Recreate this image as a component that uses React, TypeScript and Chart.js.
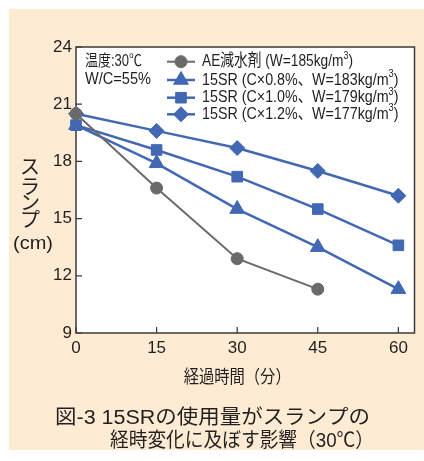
import React, { useEffect, useRef } from 'react';
import { Chart, registerables } from 'chart.js';
import { drawPoint } from 'chart.js/helpers';

Chart.register(...registerables);

const minutes = [0, 15, 30, 45, 60];
const aeSlump = [20.5, 16.6, 12.9, 11.3];
const sr08Slump = [19.9, 17.9, 15.5, 13.5, 11.3];
const sr10Slump = [19.9, 18.6, 17.2, 15.5, 13.6];
const sr12Slump = [20.5, 19.6, 18.7, 17.5, 16.2];
const xTickValues = [0, 15, 30, 45, 60];
const yTickValues = [9, 12, 15, 18, 21, 24];
const legendLabels = [
  'AE減水剤 (W=185kg/m',
  '15SR (C×0.8%、W=183kg/m',
  '15SR (C×1.0%、W=179kg/m',
  '15SR (C×1.2%、W=177kg/m',
];
const noteLines = ['温度:30℃', 'W/C=55%'];
const yTitleChars = ['ス', 'ラ', 'ン', 'プ'];
const yTitleUnit = '(cm)';
const xTitle = '経過時間（分）';
const captionLines = ['図-3 15SRの使用量がスランプの', '経時変化に及ぼす影響（30℃）'];

const FAMILY = '"Liberation Sans", "Noto Sans CJK JP", sans-serif';
const BLUE = '#4268b3';
const GRAY = '#6a6a6a';
const TEXT = '#231f20';

type Piece = { t: string; sup?: boolean };

function drawPieces(
  ctx: CanvasRenderingContext2D,
  pieces: Piece[],
  x: number,
  y: number,
  size: number,
  target: number,
  align: 'left' | 'center' = 'left'
) {
  const normal = `${size}px ${FAMILY}`;
  const small = `${Math.round(size * 0.62)}px ${FAMILY}`;
  let w = 0;
  const widths: number[] = [];
  for (const p of pieces) {
    ctx.font = p.sup ? small : normal;
    const pw = ctx.measureText(p.t).width;
    widths.push(pw);
    w += pw;
  }
  const s = target ? target / w : 1;
  ctx.save();
  const startX = align === 'center' ? x - (w * s) / 2 : x;
  ctx.translate(startX, y);
  ctx.scale(s, 1);
  ctx.textBaseline = 'middle';
  ctx.textAlign = 'left';
  ctx.fillStyle = TEXT;
  let cx = 0;
  pieces.forEach((p, i) => {
    ctx.font = p.sup ? small : normal;
    ctx.fillText(p.t, cx, p.sup ? -size * 0.36 : 0);
    cx += widths[i];
  });
  ctx.restore();
}

const decoPlugin = {
  id: 'deco',
  beforeDraw(chart: any) {
    const { ctx, chartArea: a } = chart;
    ctx.save();
    ctx.fillStyle = '#ffffff';
    ctx.fillRect(a.left, a.top, a.right - a.left, a.bottom - a.top);
    ctx.restore();
  },
  beforeDatasetsDraw(chart: any) {
    const { ctx, chartArea: a, scales } = chart;
    ctx.save();
    ctx.strokeStyle = '#3a3a3a';
    ctx.lineWidth = 1.5;
    ctx.strokeRect(a.left, a.top, a.right - a.left, a.bottom - a.top);
    ctx.lineWidth = 1.2;
    ctx.beginPath();
    for (const v of xTickValues) {
      const px = scales.x.getPixelForValue(v);
      ctx.moveTo(px, a.bottom);
      ctx.lineTo(px, a.bottom - 6);
    }
    for (const v of yTickValues) {
      const py = scales.y.getPixelForValue(v);
      ctx.moveTo(a.left, py);
      ctx.lineTo(a.left + 6, py);
    }
    ctx.stroke();
    ctx.restore();
  },
  afterDraw(chart: any) {
    const { ctx } = chart;
    // note
    drawPieces(ctx, [{ t: noteLines[0] }], 76, 53, 16, 57);
    drawPieces(ctx, [{ t: noteLines[1] }], 76, 71, 16, 66);
    // legend
    const rows = [52.7, 71, 88.7, 105.3];
    const widthsT = [151, 196.5, 196.5, 196.5];
    chart.data.datasets.forEach((ds: any, i: number) => {
      const y = rows[i];
      ctx.save();
      ctx.strokeStyle = ds.borderColor;
      ctx.lineWidth = ds.borderWidth;
      ctx.beginPath();
      ctx.moveTo(158, y);
      ctx.lineTo(186, y);
      ctx.stroke();
      ctx.fillStyle = ds.pointBackgroundColor;
      ctx.strokeStyle = ds.pointBorderColor;
      ctx.lineWidth = ds.pointBorderWidth;
      drawPoint(ctx, { pointStyle: ds.pointStyle, radius: ds.pointRadius, rotation: 0, borderWidth: ds.pointBorderWidth }, 172, y);
      ctx.restore();
      drawPieces(ctx, [{ t: legendLabels[i] }, { t: '3', sup: true }, { t: ')' }], 193, y, 17, widthsT[i]);
    });
    // y title
    const ys = [159, 179, 195, 212];
    yTitleChars.forEach((c, i) => {
      ctx.save();
      ctx.font = `20px ${FAMILY}`;
      ctx.fillStyle = TEXT;
      ctx.textAlign = 'center';
      ctx.textBaseline = 'middle';
      ctx.fillText(c, 21, ys[i]);
      ctx.restore();
    });
    drawPieces(ctx, [{ t: yTitleUnit }], 24, 235, 19, 40, 'center');
    // x title
    const cx = chart.scales.x.getPixelForValue(30);
    drawPieces(ctx, [{ t: xTitle }], cx, 369, 18, 107, 'center');
    // caption
    drawPieces(ctx, [{ t: captionLines[0] }], 46, 409, 20, 315);
    drawPieces(ctx, [{ t: captionLines[1] }], 101, 432, 20, 264);
  },
};

export default function App() {
  const ref = useRef<HTMLCanvasElement>(null);
  useEffect(() => {
    if (!ref.current) return;
    const mk = (vals: number[]) => vals.map((v, i) => ({ x: minutes[i], y: v }));
    const chart = new Chart(ref.current, {
      type: 'line',
      data: {
        datasets: [
          {
            label: legendLabels[0],
            data: mk(aeSlump),
            borderColor: GRAY,
            borderWidth: 2,
            pointStyle: 'circle',
            pointRadius: 6,
            pointBackgroundColor: GRAY,
            pointBorderColor: GRAY,
            pointBorderWidth: 1,
            clip: false,
          } as any,
          {
            label: legendLabels[1],
            data: mk(sr08Slump),
            borderColor: BLUE,
            borderWidth: 2.5,
            pointStyle: 'triangle',
            pointRadius: 8.5,
            pointBackgroundColor: BLUE,
            pointBorderColor: BLUE,
            pointBorderWidth: 1,
            clip: false,
          },
          {
            label: legendLabels[2],
            data: mk(sr10Slump),
            borderColor: BLUE,
            borderWidth: 2.5,
            pointStyle: 'rect',
            pointRadius: 7.5,
            pointBackgroundColor: BLUE,
            pointBorderColor: BLUE,
            pointBorderWidth: 1,
            clip: false,
          },
          {
            label: legendLabels[3],
            data: mk(sr12Slump),
            borderColor: BLUE,
            borderWidth: 2.5,
            pointStyle: 'rectRot',
            pointRadius: 7.5,
            pointBackgroundColor: BLUE,
            pointBorderColor: BLUE,
            pointBorderWidth: 1,
            clip: false,
          },
        ],
      },
      options: {
        responsive: false,
        animation: false,
        devicePixelRatio: 1,
        layout: { padding: { left: 0, top: 38, right: 8, bottom: 0 } },
        plugins: { legend: { display: false }, tooltip: { enabled: false } },
        scales: {
          x: {
            type: 'linear',
            min: 0,
            max: 63,
            grid: { display: false, drawTicks: false },
            border: { display: false },
            afterBuildTicks: (s: any) => {
              s.ticks = xTickValues.map((v) => ({ value: v }));
            },
            afterFit: (s: any) => {
              s.height = 117;
            },
            ticks: { font: { size: 17, family: FAMILY }, color: TEXT, padding: 5, maxRotation: 0, autoSkip: false },
          },
          y: {
            type: 'linear',
            min: 9,
            max: 24,
            grid: { display: false, drawTicks: false },
            border: { display: false },
            afterBuildTicks: (s: any) => {
              s.ticks = yTickValues.map((v) => ({ value: v }));
            },
            afterFit: (s: any) => {
              s.width = 67;
            },
            ticks: { font: { size: 17, family: FAMILY }, color: TEXT, padding: 4, autoSkip: false },
          },
        },
      },
      plugins: [decoPlugin],
    });
    return () => chart.destroy();
  }, []);
  return (
    <div style={{ position: 'absolute', left: 9, top: 9, width: 415, height: 441, background: '#fdecd3' }}>
      <canvas ref={ref} width={415} height={441} style={{ display: 'block', width: 415, height: 441 }} />
    </div>
  );
}
